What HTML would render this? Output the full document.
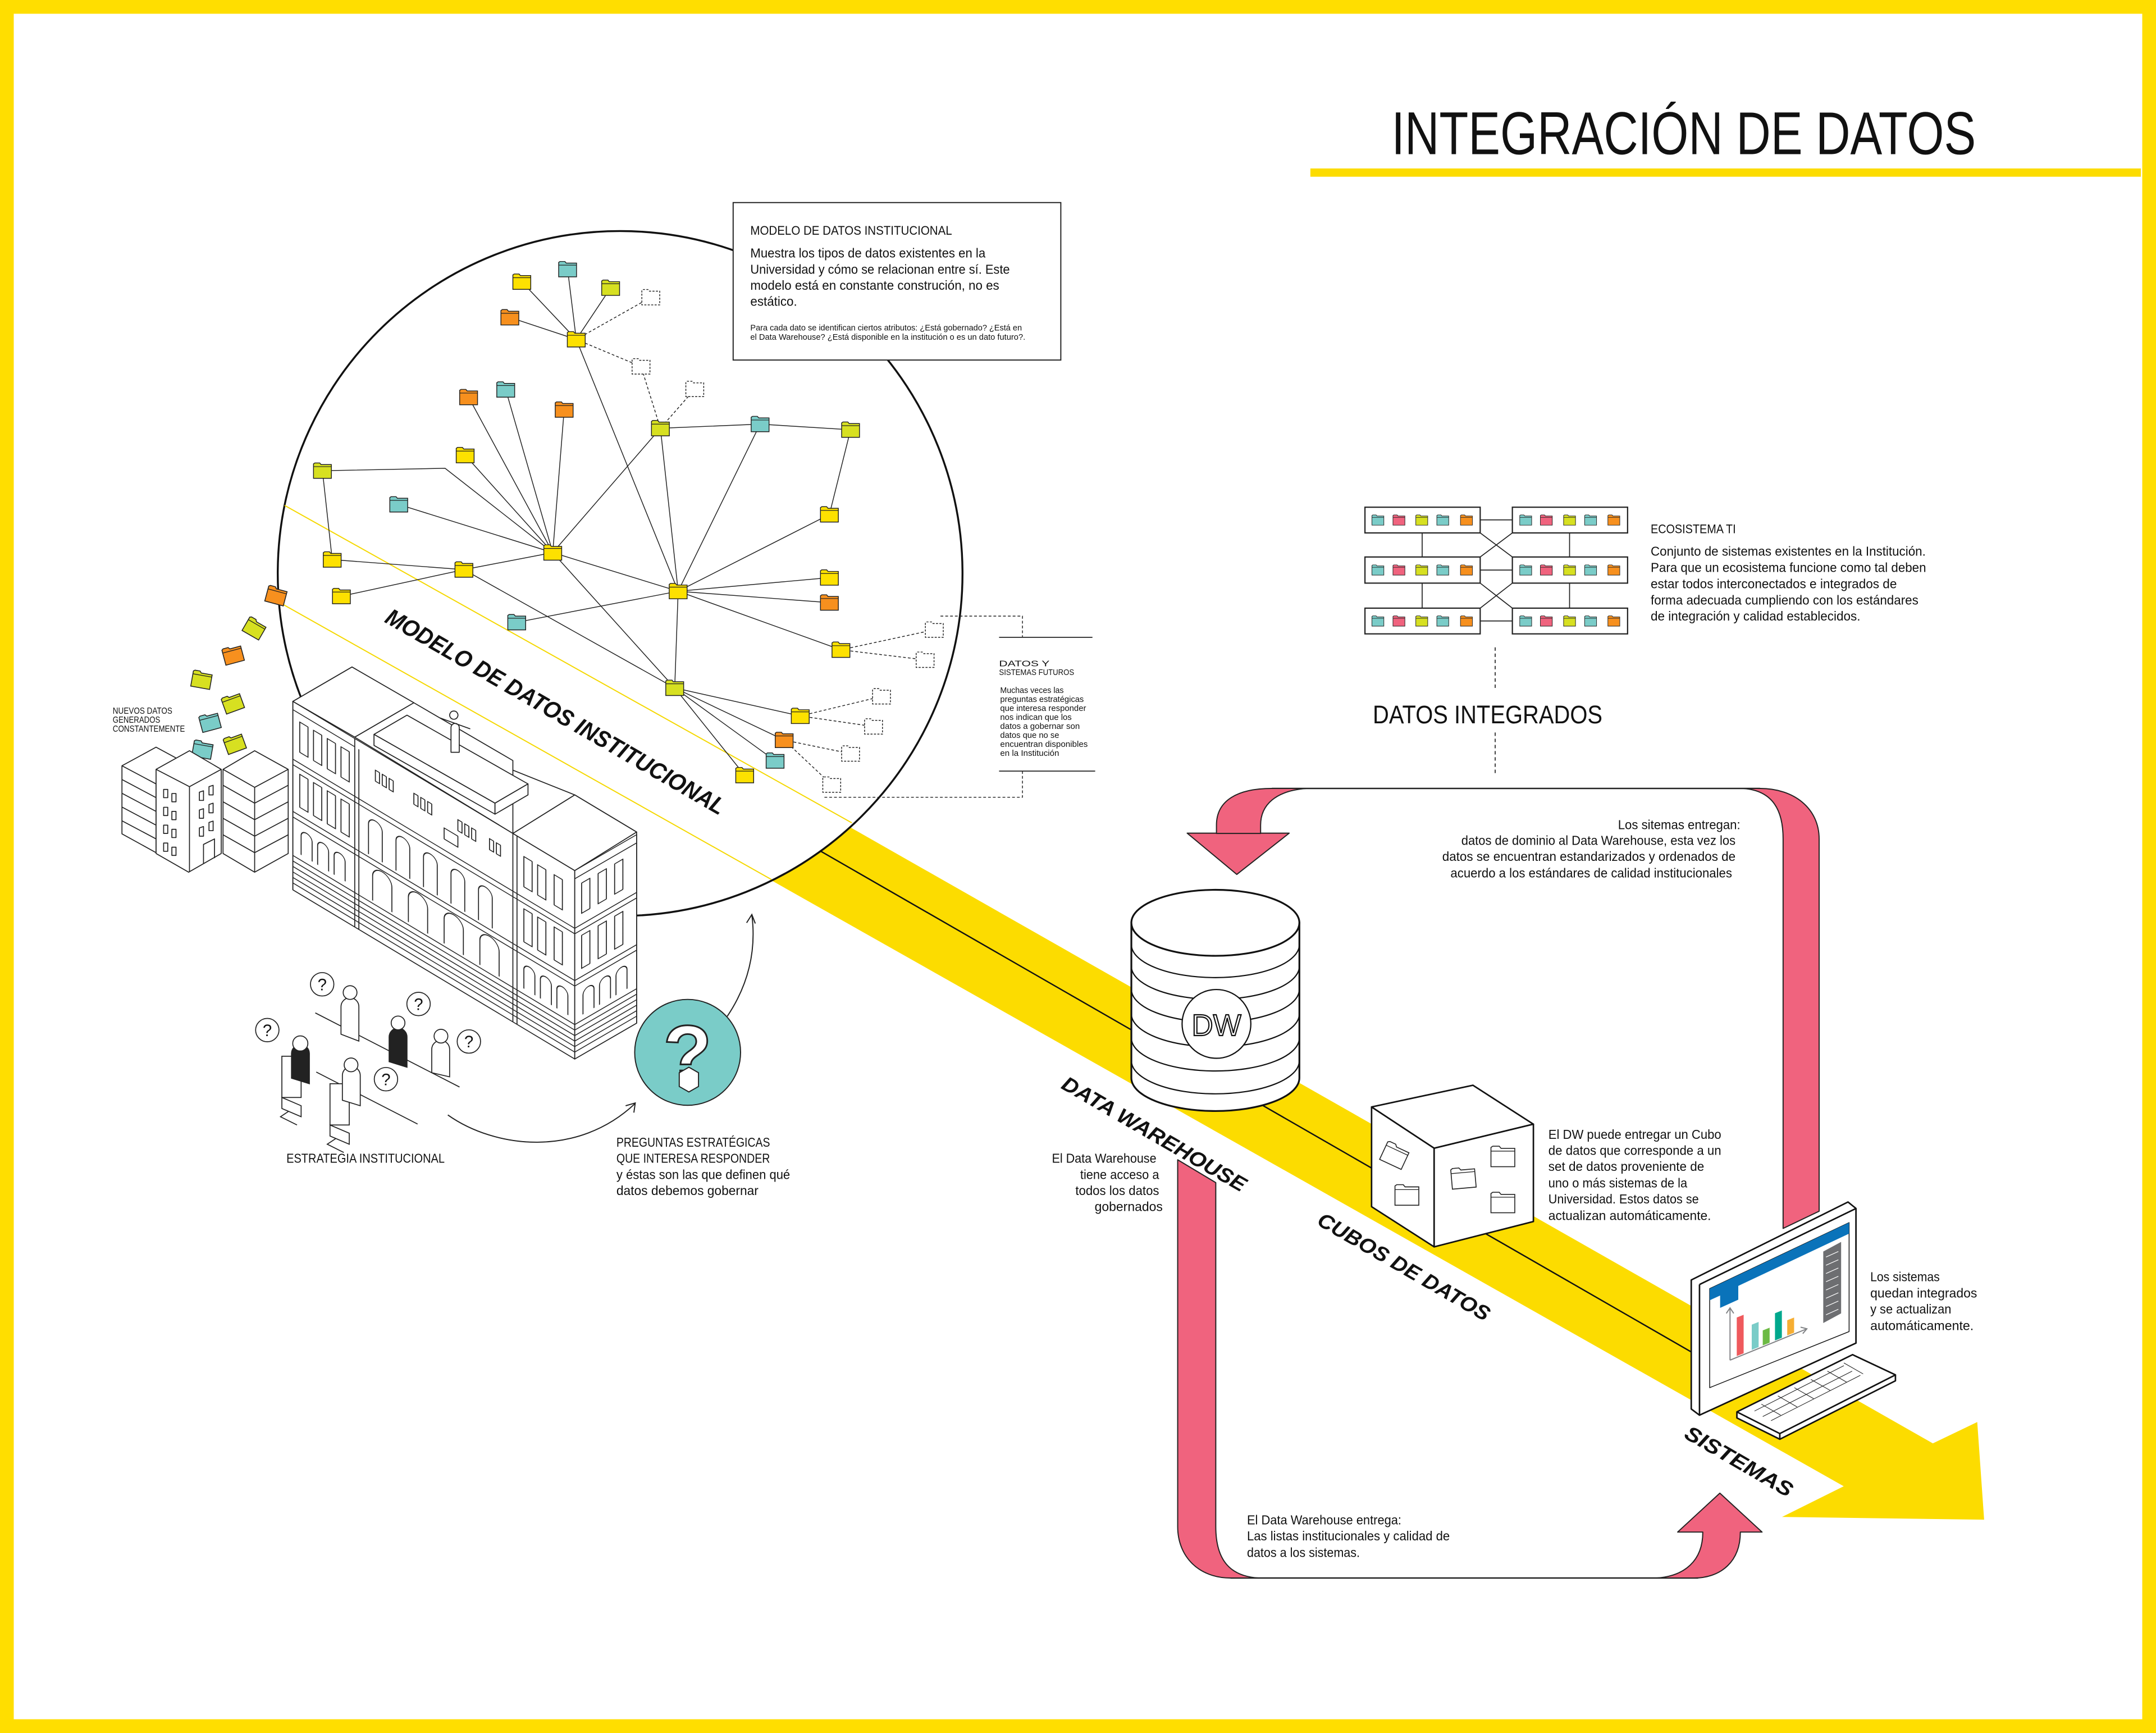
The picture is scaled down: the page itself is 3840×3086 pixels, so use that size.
<!DOCTYPE html>
<html><head><meta charset="utf-8"><style>
html,body{margin:0;padding:0;background:#fff;}
svg{display:block;}
text{font-family:"Liberation Sans",sans-serif;fill:#111;}
</style></head><body>
<svg width="3840" height="3086" viewBox="0 0 1568 1260.1" preserveAspectRatio="none" xmlns="http://www.w3.org/2000/svg">
<defs>
<symbol id="fd" viewBox="0 0 14 12"><path d="M0.5,2.5 L0.5,1 L1.5,0.3 L5,0.3 L6,1.5 L13.5,1.5 L13.5,11.5 L0.5,11.5 Z" stroke="#222" stroke-width="0.6"/><path d="M0.5,3 H13.5" stroke="#222" stroke-width="0.5" fill="none"/></symbol>
<symbol id="fdd" viewBox="0 0 14 12"><path d="M0.5,2.5 L0.5,1 L1.5,0.3 L5,0.3 L6,1.5 L13.5,1.5 L13.5,11.5 L0.5,11.5 Z" fill="#fff" stroke="#222" stroke-width="0.6" stroke-dasharray="1.5,1"/></symbol>
<symbol id="fw" viewBox="0 0 14 12"><path d="M0.5,2.5 L0.5,1 L1.5,0.3 L5,0.3 L6,1.5 L13.5,1.5 L13.5,11.5 L0.5,11.5 Z" fill="#fff" stroke="#222" stroke-width="0.5"/><path d="M0.5,3 H13.5" stroke="#222" stroke-width="0.4" fill="none"/></symbol>
</defs>
<rect x="0" y="0" width="1568" height="1260.1" fill="#fff"/>

<!-- yellow band -->
<polygon points="207,367.5 1405.7,1049.5 1438,1034 1443,1105 1296,1103 1340.9,1080.7 205,439" fill="#FCDC00"/>
<!-- circle -->
<circle cx="451" cy="417" r="249" fill="#fff" stroke="#111" stroke-width="1.4"/>
<line x1="207" y1="367.5" x2="619.5" y2="598.3" stroke="#F5D800" stroke-width="0.8"/>
<line x1="205" y1="439" x2="561" y2="639.5" stroke="#F5D800" stroke-width="0.8"/>
<line x1="597" y1="619" x2="1230" y2="983" stroke="#111" stroke-width="1"/>

<!-- network lines -->
<g stroke="#222" stroke-width="0.6" fill="none">
<path d="M419.1,246.8 L379.5,204.9 M419.1,246.8 L412.8,195.8 M419.1,246.8 L444.1,209.3 M419.1,246.8 L370.8,230.8 M419.1,246.8 L493.2,429.9"/>
<path d="M480.3,311.4 L552.8,308.4 L618.6,312.5 L603.2,374.1 L493.2,429.9 M480.3,311.4 L402,401.8 M480.3,311.4 L493.2,429.9 M552.8,308.4 L493.2,429.9"/>
<path d="M402,401.8 L340.8,288.8 M402,401.8 L367.8,283.3 M402,401.8 L410.3,297.9 M402,401.8 L338.3,331 M402,401.8 L323.7,340.5 L234.5,342.3 M402,401.8 L290,366.8 M402,401.8 L337.4,414.2 M402,401.8 L493.2,429.9 M402,401.8 L490.7,500.2"/>
<path d="M234.5,342.3 L241.6,406.9 L337.4,414.2 M248.3,433.5 L337.4,414.2 M337.4,414.2 L490.7,500.2"/>
<path d="M493.2,429.9 L603.2,420 M493.2,429.9 L603.2,438.2 M493.2,429.9 L375.8,452.5 M493.2,429.9 L611.6,472.5 M493.2,429.9 L490.7,500.2"/>
<path d="M490.7,500.2 L582,520.6 M490.7,500.2 L570.3,538.1 M490.7,500.2 L563.7,553.1 M490.7,500.2 L541.6,563.7"/>
</g>
<g stroke="#222" stroke-width="0.6" fill="none" stroke-dasharray="2,1.5">
<path d="M419.1,246.8 L473.3,216.2 M419.1,246.8 L466.2,266.5 L480.3,311.4 M505.3,282.9 L480.3,311.4"/>
<path d="M611.6,472.5 L679.5,457.9 M611.6,472.5 L672.8,479.8 M582,520.6 L641.1,506.4 M582,520.6 L635.3,528.3 M570.3,538.1 L618.6,548 M570.3,538.1 L604.9,570.6"/>
<path d="M684,448 H743.6 V463.4 M743.6,560.7 V579.7 H598.6"/>
</g>
<path d="M726.6,463.4 H794.5 M726.6,560.7 H796.5" stroke="#222" stroke-width="0.7"/>

<!-- network folders -->
<g>
<use href="#fd" x="372.5" y="198.9" width="14" height="12" fill="#FDE100"/>
<use href="#fd" x="405.8" y="189.8" width="14" height="12" fill="#7ACCC8"/>
<use href="#fd" x="437.1" y="203.3" width="14" height="12" fill="#D7E021"/>
<use href="#fd" x="363.8" y="224.8" width="14" height="12" fill="#F7901E"/>
<use href="#fd" x="412.1" y="240.8" width="14" height="12" fill="#FDE100"/>
<use href="#fd" x="473.3" y="305.4" width="14" height="12" fill="#D7E021"/>
<use href="#fd" x="545.8" y="302.4" width="14" height="12" fill="#7ACCC8"/>
<use href="#fd" x="611.6" y="306.5" width="14" height="12" fill="#D7E021"/>
<use href="#fd" x="596.2" y="368.1" width="14" height="12" fill="#FDE100"/>
<use href="#fd" x="395" y="395.8" width="14" height="12" fill="#FDE100"/>
<use href="#fd" x="333.8" y="282.8" width="14" height="12" fill="#F7901E"/>
<use href="#fd" x="360.8" y="277.3" width="14" height="12" fill="#7ACCC8"/>
<use href="#fd" x="403.3" y="291.9" width="14" height="12" fill="#F7901E"/>
<use href="#fd" x="331.3" y="325" width="14" height="12" fill="#FDE100"/>
<use href="#fd" x="227.5" y="336.3" width="14" height="12" fill="#D7E021"/>
<use href="#fd" x="283" y="360.8" width="14" height="12" fill="#7ACCC8"/>
<use href="#fd" x="234.6" y="400.9" width="14" height="12" fill="#FDE100"/>
<use href="#fd" x="330.4" y="408.2" width="14" height="12" fill="#FDE100"/>
<use href="#fd" x="241.3" y="427.5" width="14" height="12" fill="#FDE100"/>
<use href="#fd" x="368.8" y="446.5" width="14" height="12" fill="#7ACCC8"/>
<use href="#fd" x="486.2" y="423.9" width="14" height="12" fill="#FDE100"/>
<use href="#fd" x="596.2" y="414" width="14" height="12" fill="#FDE100"/>
<use href="#fd" x="596.2" y="432.2" width="14" height="12" fill="#F7901E"/>
<use href="#fd" x="604.6" y="466.5" width="14" height="12" fill="#FDE100"/>
<use href="#fd" x="483.7" y="494.2" width="14" height="12" fill="#D7E021"/>
<use href="#fd" x="575" y="514.6" width="14" height="12" fill="#FDE100"/>
<use href="#fd" x="563.3" y="532.1" width="14" height="12" fill="#F7901E"/>
<use href="#fd" x="556.7" y="547.1" width="14" height="12" fill="#7ACCC8"/>
<use href="#fd" x="534.6" y="557.7" width="14" height="12" fill="#FDE100"/>
<use href="#fdd" x="466.3" y="210.2" width="14" height="12"/>
<use href="#fdd" x="459.2" y="260.5" width="14" height="12"/>
<use href="#fdd" x="498.3" y="276.9" width="14" height="12"/>
<use href="#fdd" x="672.5" y="451.9" width="14" height="12"/>
<use href="#fdd" x="665.8" y="473.8" width="14" height="12"/>
<use href="#fdd" x="634.1" y="500.4" width="14" height="12"/>
<use href="#fdd" x="628.3" y="522.3" width="14" height="12"/>
<use href="#fdd" x="611.6" y="542" width="14" height="12"/>
<use href="#fdd" x="597.9" y="564.6" width="14" height="12"/>
</g>

<!-- falling folders -->
<g>
<use href="#fd" x="-7.5" y="-6.5" width="15" height="13" fill="#F7901E" transform="translate(200.8,433.1) rotate(15)"/>
<use href="#fd" x="-7.5" y="-6.5" width="15" height="13" fill="#D7E021" transform="translate(185,456.8) rotate(30)"/>
<use href="#fd" x="-7.5" y="-6.5" width="15" height="13" fill="#F7901E" transform="translate(169.5,476.2) rotate(-15)"/>
<use href="#fd" x="-7.5" y="-6.5" width="15" height="13" fill="#D7E021" transform="translate(146.6,494.3) rotate(10)"/>
<use href="#fd" x="-7.5" y="-6.5" width="15" height="13" fill="#D7E021" transform="translate(169.3,511.3) rotate(-20)"/>
<use href="#fd" x="-7.5" y="-6.5" width="15" height="13" fill="#7ACCC8" transform="translate(152.7,525.1) rotate(-15)"/>
<use href="#fd" x="-7.5" y="-6.5" width="15" height="13" fill="#7ACCC8" transform="translate(147.3,545.1) rotate(10)"/>
<use href="#fd" x="-7.5" y="-6.5" width="15" height="13" fill="#D7E021" transform="translate(170.7,540.7) rotate(-20)"/>
</g>

<!-- info box -->
<rect x="533.2" y="147.3" width="238.3" height="114.5" fill="#fff" stroke="#222" stroke-width="0.8"/>
<text x="545.7" y="170.7" font-size="9" textLength="146.7" lengthAdjust="spacingAndGlyphs">MODELO DE DATOS INSTITUCIONAL</text>
<g font-size="9.6">
<text x="545.7" y="187.3" textLength="171" lengthAdjust="spacingAndGlyphs">Muestra los tipos de datos existentes en la</text>
<text x="545.7" y="199" textLength="188.7" lengthAdjust="spacingAndGlyphs">Universidad y cómo se relacionan entre sí. Este</text>
<text x="545.7" y="210.6" textLength="181" lengthAdjust="spacingAndGlyphs">modelo está en constante construción, no es</text>
<text x="545.7" y="222.3" textLength="34" lengthAdjust="spacingAndGlyphs">estático.</text>
</g>
<g font-size="6">
<text x="545.7" y="240.4" textLength="197.5" lengthAdjust="spacingAndGlyphs">Para cada dato se identifican ciertos atributos: ¿Está gobernado? ¿Está en</text>
<text x="545.7" y="247" textLength="200" lengthAdjust="spacingAndGlyphs">el Data Warehouse? ¿Está disponible en la institución o es un dato futuro?.</text>
</g>

<!-- datos futuros -->
<g font-size="6.2">
<text x="726.6" y="484.5" textLength="36.7" lengthAdjust="spacingAndGlyphs">DATOS  Y</text>
<text x="726.6" y="490.8" textLength="54.6" lengthAdjust="spacingAndGlyphs">SISTEMAS FUTUROS</text>
<text x="727.4" y="503.8" textLength="46.2" lengthAdjust="spacingAndGlyphs">Muchas veces las</text>
<text x="727.4" y="510.4" textLength="60.8" lengthAdjust="spacingAndGlyphs">preguntas estratégicas</text>
<text x="727.4" y="516.9" textLength="62.5" lengthAdjust="spacingAndGlyphs">que interesa responder</text>
<text x="727.4" y="523.5" textLength="52" lengthAdjust="spacingAndGlyphs">nos indican que los</text>
<text x="727.4" y="530" textLength="57.9" lengthAdjust="spacingAndGlyphs">datos a gobernar son</text>
<text x="727.4" y="536.6" textLength="42.9" lengthAdjust="spacingAndGlyphs">datos que no se</text>
<text x="727.4" y="543.1" textLength="63.7" lengthAdjust="spacingAndGlyphs">encuentran disponibles</text>
<text x="727.4" y="549.7" textLength="42.9" lengthAdjust="spacingAndGlyphs">en la Institución</text>
</g>

<!-- rotated label -->
<text transform="translate(279,452) rotate(30)" font-size="17" font-weight="bold" font-style="italic" textLength="282" lengthAdjust="spacingAndGlyphs">MODELO DE DATOS INSTITUCIONAL</text>

<!-- small buildings -->
<g stroke="#222" stroke-width="0.7" fill="#fff" stroke-linejoin="round">
<polygon points="88.7,556.8 113.5,543.3 137,556 137,606 113.5,620 88.7,606.3"/>
<path d="M88.7,556.8 L113.5,570 L137,556 M113.5,570 V620" fill="none"/>
<path d="M88.7,566.8 L113.5,580 M88.7,576.8 L113.5,590 M88.7,586.8 L113.5,600 M88.7,596.8 L113.5,610" fill="none"/>
<polygon points="113.5,559.4 137.8,545.9 160.9,559.4 160.9,620.6 137.2,634.2 113.5,620.6"/>
<path d="M113.5,559.4 L137.8,572 L160.9,559.4 M137.8,572 V634" fill="none"/>
<path d="M119,574 v6 h3 v-6z M125,577 v6 h3 v-6z M119,587 v6 h3 v-6z M125,590 v6 h3 v-6z M119,600 v6 h3 v-6z M125,603 v6 h3 v-6z M119,613 v6 h3 v-6z M125,616 v6 h3 v-6z" fill="none"/>
<path d="M145,576 v6 h3 v-7z M152,572 v6 h3 v-7z M145,589 v6 h3 v-7z M152,585 v6 h3 v-7z M145,602 v6 h3 v-7z M152,598 v6 h3 v-7z M148,628 v-14 l8,-4 v14" fill="none"/>
<polygon points="162.2,559.4 185.2,545.9 209.6,559.4 209.6,620.6 185.2,634.2 162.2,620.6"/>
<path d="M162.2,559.4 L185.2,572.5 L209.6,559.4 M185.2,572.5 V634" fill="none"/>
<path d="M162.2,571 L185.2,584 L209.6,571 M162.2,583 L185.2,596 L209.6,583 M162.2,595 L185.2,608 L209.6,595 M162.2,607 L185.2,620 L209.6,607" fill="none"/>
</g>

<!-- big building -->
<g stroke="#222" stroke-width="0.7" fill="#fff" stroke-linejoin="round">
<polygon points="213,510 256,485 301,511 301,518 373,560 418,578 463,605 463,744 418,770 213,647"/>
<g transform="matrix(1,0.6,0,1,213,510)">
<rect x="0" y="0" width="205" height="137"/>
<path d="M0,6 H45 M0,42 H205 M0,46 H205 M0,80 H205 M0,84 H205 M0,112 H205 M0,116 H205 M0,120 H205 M0,124 H205 M0,128 H205 M0,132 H205 M45,0 V137 M48,6 V137 M160,0 V137 M163,0 V137" fill="none"/>
<path d="M5,12 h6 v22 h-6z M15,12 h6 v22 h-6z M25,12 h6 v22 h-6z M35,12 h6 v22 h-6z M5,50 h6 v24 h-6z M15,50 h6 v24 h-6z M25,50 h6 v24 h-6z M35,50 h6 v24 h-6z" fill="none"/>
<path d="M6,108 V94 a4,4 0 0 1 8,0 V108 M18,108 V94 a4,4 0 0 1 8,0 V108 M30,108 V94 a4,4 0 0 1 8,0 V108" fill="none"/>
<path d="M60,14 h3 v8 h-3z M65,14 h3 v8 h-3z M70,14 h3 v8 h-3z M88,14 h3 v8 h-3z M93,14 h3 v8 h-3z M98,14 h3 v8 h-3z M120,14 h3 v8 h-3z M125,14 h3 v8 h-3z M130,14 h3 v8 h-3z M143,14 h3 v8 h-3z M148,14 h3 v8 h-3z M110,26 h10 v8 h-10z" fill="none"/>
<path d="M55,78 V56 a5,5 0 0 1 10,0 V78 M75,78 V56 a5,5 0 0 1 10,0 V78 M95,78 V56 a5,5 0 0 1 10,0 V78 M115,78 V56 a5,5 0 0 1 10,0 V78 M135,78 V56 a5,5 0 0 1 10,0 V78" fill="none"/>
<path d="M58,110 V92 a7,7 0 0 1 14,0 V110 M84,110 V92 a7,7 0 0 1 14,0 V110 M110,110 V92 a7,7 0 0 1 14,0 V110 M136,110 V92 a7,7 0 0 1 14,0 V110" fill="none"/>
<path d="M168,12 h6 v22 h-6z M178,12 h6 v22 h-6z M190,12 h6 v22 h-6z M168,50 h6 v24 h-6z M178,50 h6 v24 h-6z M190,50 h6 v24 h-6z M168,108 V94 a4,4 0 0 1 8,0 V108 M180,108 V94 a4,4 0 0 1 8,0 V108 M192,108 V94 a4,4 0 0 1 8,0 V108" fill="none"/>
</g>
<g transform="matrix(1,-0.58,0,1,418,633)">
<rect x="0" y="0" width="45" height="137"/>
<path d="M0,6 H45 M0,42 H45 M0,46 H45 M0,80 H45 M0,84 H45 M0,112 H45 M0,116 H45 M0,120 H45 M0,124 H45 M0,128 H45 M0,132 H45 M5,12 h6 v22 h-6z M17,12 h6 v22 h-6z M29,12 h6 v22 h-6z M5,50 h6 v24 h-6z M17,50 h6 v24 h-6z M29,50 h6 v24 h-6z M6,108 V94 a4,4 0 0 1 8,0 V108 M18,108 V94 a4,4 0 0 1 8,0 V108 M30,108 V94 a4,4 0 0 1 8,0 V108" fill="none"/>
</g>
<polygon points="213,510 256,485 301,511 258,536"/>
<polygon points="373,606 418,578 463,605 418,633"/>
<polygon points="258,536 301,511 373,553 373,606"/>
<polygon points="272,534 296,520 384,570 360,584"/>
<polygon points="272,534 360,584 360,592 272,542"/>
<polygon points="360,584 384,570 384,578 360,592"/>
<path d="M328,547 v-18 a3,3 0 0 1 6,0 v18 z M320,522 l22,8 M330,523 a3,3 0 1 1 0.1,0" fill="#fff"/>
</g>

<!-- people -->
<g stroke="#222" stroke-width="0.7" fill="#fff">
<line x1="229.3" y1="736.5" x2="334.2" y2="790.4"/>
<line x1="230" y1="779.5" x2="303.7" y2="817.3"/>
<path d="M248,752 v-20 a6,6 0 0 1 13,0 v25 z"/><circle cx="254.6" cy="721.7" r="5"/>
<path d="M283,772 v-18 a6,6 0 0 1 13,0 v22 z" fill="#222"/><circle cx="289.5" cy="743.8" r="5"/>
<path d="M314,780 v-17 a6,6 0 0 1 13,0 v20 z"/><circle cx="320.7" cy="753.4" r="5"/>
<rect x="205" y="768" width="14" height="30"/><path d="M205,798 l14,6 v8 l-14,-6z M210,808 l-6,4 l12,6"/>
<path d="M212,784 v-18 a6,6 0 0 1 13,0 v22 z" fill="#222"/><circle cx="218.4" cy="758.7" r="5.5"/>
<rect x="240" y="788" width="14" height="30"/><path d="M240,818 l14,6 v8 l-14,-6z M244,828 l-6,4 l12,6"/>
<path d="M249,800 v-18 a6,6 0 0 1 13,0 v22 z"/><circle cx="255.3" cy="774.3" r="5"/>
<circle cx="234.3" cy="715.7" r="8.5"/><circle cx="304.4" cy="730" r="8.5"/><circle cx="194.4" cy="749" r="8.5"/><circle cx="341" cy="757.3" r="8.5"/><circle cx="280.7" cy="784.7" r="8.5"/>
</g>
<g font-size="12" text-anchor="middle">
<text x="234.3" y="720">?</text><text x="304.4" y="734.3">?</text><text x="194.4" y="753.3">?</text><text x="341" y="761.6">?</text><text x="280.7" y="789">?</text>
</g>

<!-- question circle + arrows -->
<circle cx="500.1" cy="765.2" r="38.5" fill="#7ACCC8" stroke="#222" stroke-width="0.8"/>
<text x="500" y="786" font-size="58" font-weight="bold" text-anchor="middle" style="fill:#fff;stroke:#222;stroke-width:1.2">?</text>
<path d="M494,780 l7,-4 l7,4 v10 l-7,4 l-7,-4z" fill="#fff" stroke="#222" stroke-width="0.8"/>
<path d="M325.7,810.7 C360,835 420,842 461.9,802.4 M455,804 l7,-2 l-1,7" stroke="#222" stroke-width="0.8" fill="none"/>
<path d="M528.9,739 C545,715 550,690 546.8,665 M543,671 l3.8,-6 l2.5,6.5" stroke="#222" stroke-width="0.8" fill="none"/>

<!-- left texts -->
<g font-size="6.3">
<text x="82" y="519" textLength="43.3" lengthAdjust="spacingAndGlyphs">NUEVOS DATOS</text>
<text x="82" y="525.5" textLength="34.5" lengthAdjust="spacingAndGlyphs">GENERADOS</text>
<text x="82" y="532" textLength="52.5" lengthAdjust="spacingAndGlyphs">CONSTANTEMENTE</text>
</g>
<text x="208.3" y="845.5" font-size="9.5" textLength="115.1" lengthAdjust="spacingAndGlyphs">ESTRATEGIA INSTITUCIONAL</text>
<g font-size="9.5">
<text x="448.3" y="833.8" textLength="111.7" lengthAdjust="spacingAndGlyphs">PREGUNTAS ESTRATÉGICAS</text>
<text x="448.3" y="845.5" textLength="111.7" lengthAdjust="spacingAndGlyphs">QUE INTERESA RESPONDER</text>
<text x="448.3" y="857.2" textLength="126.3" lengthAdjust="spacingAndGlyphs">y éstas son las que definen qué</text>
<text x="448.3" y="868.9" textLength="103.3" lengthAdjust="spacingAndGlyphs">datos debemos gobernar</text>
</g>

<!-- title -->
<text x="1012" y="112" font-size="44" textLength="425" lengthAdjust="spacingAndGlyphs">INTEGRACIÓN DE DATOS</text>
<rect x="953" y="122.5" width="604" height="6" fill="#FCDC00"/>

<!-- ecosystem -->
<g stroke="#222" stroke-width="0.7" fill="none">
<path d="M1076.5,378 H1099.9 M1076.5,414.5 H1099.9 M1076.5,451.5 H1099.9 M1034.3,387.5 V405 M1034.3,424 V442.2 M1141.5,387.5 V405 M1141.5,424 V442.2 M1076.5,387.5 L1099.9,405 M1099.9,387.5 L1076.5,405 M1076.5,424 L1099.9,442.2 M1099.9,424 L1076.5,442.2"/>
</g>
<g stroke="#222" stroke-width="0.9" fill="#fff">
<rect x="992.7" y="368.8" width="83.8" height="18.7"/><rect x="1099.9" y="368.8" width="83.8" height="18.7"/>
<rect x="992.7" y="405" width="83.8" height="19"/><rect x="1099.9" y="405" width="83.8" height="19"/>
<rect x="992.7" y="442.2" width="83.8" height="18.7"/><rect x="1099.9" y="442.2" width="83.8" height="18.7"/>
</g>
<g>
<g id="row1">
<use href="#fd" x="997.4" y="374.2" width="9.4" height="8" fill="#7ACCC8"/>
<use href="#fd" x="1012.7" y="374.2" width="9.4" height="8" fill="#F0637E"/>
<use href="#fd" x="1029.3" y="374.2" width="9.4" height="8" fill="#D7E021"/>
<use href="#fd" x="1044.6" y="374.2" width="9.4" height="8" fill="#7ACCC8"/>
<use href="#fd" x="1061.8" y="374.2" width="9.4" height="8" fill="#F7901E"/>
<use href="#fd" x="1104.9" y="374.2" width="9.4" height="8" fill="#7ACCC8"/>
<use href="#fd" x="1119.9" y="374.2" width="9.4" height="8" fill="#F0637E"/>
<use href="#fd" x="1136.8" y="374.2" width="9.4" height="8" fill="#D7E021"/>
<use href="#fd" x="1152.1" y="374.2" width="9.4" height="8" fill="#7ACCC8"/>
<use href="#fd" x="1169" y="374.2" width="9.4" height="8" fill="#F7901E"/>
</g>
<use href="#row1" y="36.3"/>
<use href="#row1" y="73.4"/>
</g>
<path d="M1087.4,470.7 V501.6 M1087.4,532.6 V563.5" stroke="#222" stroke-width="0.7" stroke-dasharray="2.5,2"/>
<text x="998.4" y="526" font-size="18.5" textLength="167" lengthAdjust="spacingAndGlyphs">DATOS INTEGRADOS</text>
<text x="1200.5" y="387.8" font-size="9" textLength="61.9" lengthAdjust="spacingAndGlyphs">ECOSISTEMA TI</text>
<g font-size="9.5">
<text x="1200.5" y="404" textLength="200" lengthAdjust="spacingAndGlyphs">Conjunto de sistemas existentes en la Institución.</text>
<text x="1200.5" y="415.9" textLength="200.3" lengthAdjust="spacingAndGlyphs">Para que un ecosistema funcione como tal deben</text>
<text x="1200.5" y="427.8" textLength="179" lengthAdjust="spacingAndGlyphs">estar todos interconectados e integrados de</text>
<text x="1200.5" y="439.6" textLength="194.7" lengthAdjust="spacingAndGlyphs">forma adecuada cumpliendo con los estándares</text>
<text x="1200.5" y="451.3" textLength="152.5" lengthAdjust="spacingAndGlyphs">de integración y calidad establecidos.</text>
</g>

<!-- loop -->
<g stroke="#222" stroke-width="1" fill="none">
<path d="M925,573.3 H1280 M895,1147.4 H1235"/>
</g>
<g fill="#F0637E" stroke="#222" stroke-width="0.8" stroke-linejoin="round">
<polygon points="863.4,605.8 937.6,605.8 899.5,635.8"/>
<path d="M884.7,606 L884.7,600 C884.7,582 900,573.3 925,573.3 L950,573.3 C928,575 916.8,585 916.8,600 L916.8,606 Z"/>
<path d="M1268,573.3 L1280,573.3 C1305,573.3 1323,588 1323,610 L1323,880.7 L1296.8,893.2 L1296.8,610 C1296.8,590 1290,575 1268,573.3 Z"/>
<path d="M856.5,843.3 L884.2,859.9 L884.2,1110 C884.2,1135 895,1146 915,1147.4 L895,1147.4 C872,1147.4 856.5,1132 856.5,1110 Z"/>
<path d="M1205,1147.4 C1225,1146 1238.4,1135 1238.4,1114 L1220.1,1114 L1250.8,1085.7 L1281.5,1114 L1265.7,1114 C1265.7,1135 1252,1147.4 1232,1147.4 Z"/>
</g>

<!-- cylinder -->
<g stroke="#111" stroke-width="1.3" fill="#fff">
<path d="M822.8,671 L822.8,783.8 A61,24 0 0 0 945,783.8 L945,671 Z"/>
<ellipse cx="883.9" cy="671" rx="61.1" ry="24"/>
<path d="M822.8,686.8 A61,24 0 0 0 945,686.8 M822.8,702.6 A61,24 0 0 0 945,702.6 M822.8,719.3 A61,24 0 0 0 945,719.3 M822.8,737.2 A61,24 0 0 0 945,737.2 M822.8,754.7 A61,24 0 0 0 945,754.7 M822.8,771.3 A61,24 0 0 0 945,771.3" fill="none" stroke-width="0.9"/>
<circle cx="884.7" cy="744.5" r="25" stroke-width="0.9"/>
</g>
<text x="884.7" y="753" font-size="22" text-anchor="middle" textLength="36" lengthAdjust="spacingAndGlyphs" style="fill:#fff;stroke:#111;stroke-width:0.9">DW</text>

<!-- cube -->
<g stroke="#111" stroke-width="1.1" fill="#fff" stroke-linejoin="round">
<polygon points="997.5,804.9 1071.2,789.1 1115.2,817.4 1043,834.9"/>
<polygon points="997.5,804.9 1043,834.9 1043,906.6 997.5,877.4"/>
<polygon points="1043,834.9 1115.2,817.4 1115.2,888.2 1043,906.6"/>
</g>
<g>
<use href="#fw" x="-10" y="-8" width="20" height="16" transform="translate(1014.3,840) rotate(25)"/>
<use href="#fw" x="1013.2" y="861" width="20" height="16"/>
<use href="#fw" x="1083" y="833" width="20" height="16"/>
<use href="#fw" x="-10" y="-8" width="20" height="16" transform="translate(1064.3,856.6) rotate(-5)"/>
<use href="#fw" x="1083" y="866.5" width="20" height="16"/>
</g>

<!-- monitor -->
<g stroke="#111" stroke-width="1.1" stroke-linejoin="round">
<polygon points="1230,930.7 1344,874 1349.8,878.7 1349.8,976.6 1236,1029 1230,1024.5" fill="#fff"/>
<path d="M1236,934 L1349.8,878.7 M1236,934 V1029" fill="none"/>
<polygon points="1243.4,937 1344.8,889 1344.8,968.2 1243.4,1009" fill="#fff" stroke-width="0.6"/>
<polygon points="1290,1014 1305,1007 1320,1014 1305,1021" fill="#fff"/>
<polygon points="1263.2,1026.6 1347.3,985 1378.5,999.7 1378.5,1004 1294.4,1046.5 1263.2,1031" fill="#fff"/>
<path d="M1263.2,1026.6 L1294.4,1042.4 L1378.5,999.7 M1294.4,1042.4 V1046.5" fill="none"/>
</g>
<polygon points="1243.4,937 1344.8,889 1344.8,897 1264.2,935 1264.2,945 1251,951 1251,942 1243.4,945.5" fill="#0A73BA"/>
<polygon points="1326,910 1339,903 1339,955 1326,962" fill="#6D6E71"/>
<g stroke="#fff" stroke-width="0.5"><path d="M1328,914 l9,-4 M1328,920 l9,-4 M1328,926 l9,-4 M1328,932 l9,-4 M1328,938 l9,-4 M1328,944 l9,-4 M1328,950 l9,-4 M1328,956 l9,-4"/></g>
<g stroke="#222" stroke-width="0.45" fill="none"><path d="M1276,1026 l65,-33 M1282,1030 l65,-33 M1288,1033 l65,-33 M1281,1021 l14,8 M1293,1015 l14,8 M1305,1009 l14,8 M1317,1003 l14,8 M1329,997 l14,8 M1341,991 l14,8"/></g>
<path d="M1258.2,989 V951.5 M1255.5,955 l2.7,-4 l2.7,4 M1258.2,989 L1314.1,966.2 M1309.5,965 l4.6,1.2 l-3,3.5" stroke="#808285" stroke-width="0.8" fill="none"/>
<polygon points="1263.1,986 1268.1,984 1268.1,956 1263.1,958" fill="#EF5A5D"/>
<polygon points="1274,981.5 1279,979.5 1279,961.2 1274,963.2" fill="#7ACCC8"/>
<polygon points="1282,978.3 1287,976.3 1287,965.4 1282,967.4" fill="#6CBA44"/>
<polygon points="1290.9,974.7 1295.9,972.7 1295.9,952.9 1290.9,954.9" fill="#00A88D"/>
<polygon points="1299.8,971 1304.8,969 1304.8,958 1299.8,960" fill="#F6AE33"/>

<!-- rotated labels right -->
<g font-size="15" font-weight="bold" font-style="italic">
<text transform="translate(771,791) rotate(30)" textLength="152" lengthAdjust="spacingAndGlyphs">DATA WAREHOUSE</text>
<text transform="translate(957,890) rotate(30)" textLength="142" lengthAdjust="spacingAndGlyphs">CUBOS DE DATOS</text>
<text transform="translate(1224,1045) rotate(30)" textLength="88" lengthAdjust="spacingAndGlyphs">SISTEMAS</text>
</g>

<!-- right texts -->
<g font-size="9.6" text-anchor="end">
<text x="1265.7" y="603" textLength="89" lengthAdjust="spacingAndGlyphs">Los sitemas entregan:</text>
<text x="1262.2" y="614.3" textLength="199.4" lengthAdjust="spacingAndGlyphs">datos de dominio al Data Warehouse, esta vez los</text>
<text x="1262.2" y="626" textLength="213.3" lengthAdjust="spacingAndGlyphs">datos se encuentran estandarizados y ordenados  de</text>
<text x="1259.7" y="638" textLength="204.8" lengthAdjust="spacingAndGlyphs">acuerdo a los estándares de calidad institucionales</text>
<text x="841" y="845.5" textLength="76" lengthAdjust="spacingAndGlyphs">El Data Warehouse</text>
<text x="843" y="857.2" textLength="57.4" lengthAdjust="spacingAndGlyphs">tiene acceso a</text>
<text x="843" y="868.9" textLength="60.9" lengthAdjust="spacingAndGlyphs">todos los datos</text>
<text x="845.6" y="880.6" textLength="49.5" lengthAdjust="spacingAndGlyphs">gobernados</text>
</g>
<g font-size="9.6">
<text x="1126.1" y="828" textLength="125.7" lengthAdjust="spacingAndGlyphs">El DW puede entregar un Cubo</text>
<text x="1126.1" y="839.7" textLength="125.7" lengthAdjust="spacingAndGlyphs">de datos que corresponde a un</text>
<text x="1126.1" y="851.3" textLength="113.3" lengthAdjust="spacingAndGlyphs">set de datos proveniente de</text>
<text x="1126.1" y="863.4" textLength="101" lengthAdjust="spacingAndGlyphs">uno o más sistemas de la</text>
<text x="1126.1" y="875.1" textLength="109.4" lengthAdjust="spacingAndGlyphs">Universidad. Estos datos se</text>
<text x="1126.1" y="887.2" textLength="118.3" lengthAdjust="spacingAndGlyphs">actualizan automáticamente.</text>
<text x="1360.2" y="931.7" textLength="50.5" lengthAdjust="spacingAndGlyphs">Los sistemas</text>
<text x="1360.2" y="943.4" textLength="77.7" lengthAdjust="spacingAndGlyphs">quedan integrados</text>
<text x="1360.2" y="955.1" textLength="58.9" lengthAdjust="spacingAndGlyphs">y se actualizan</text>
<text x="1360.2" y="967.2" textLength="75.2" lengthAdjust="spacingAndGlyphs">automáticamente.</text>
<text x="906.9" y="1108.4" textLength="112.3" lengthAdjust="spacingAndGlyphs">El Data Warehouse entrega:</text>
<text x="906.9" y="1120" textLength="147.5" lengthAdjust="spacingAndGlyphs">Las listas institucionales y calidad de</text>
<text x="906.9" y="1132.1" textLength="82.1" lengthAdjust="spacingAndGlyphs">datos a los sistemas.</text>
</g>

<!-- frame -->
<rect x="5" y="5" width="1558" height="1250.1" fill="none" stroke="#FFDE00" stroke-width="10"/>
</svg>
</body></html>
